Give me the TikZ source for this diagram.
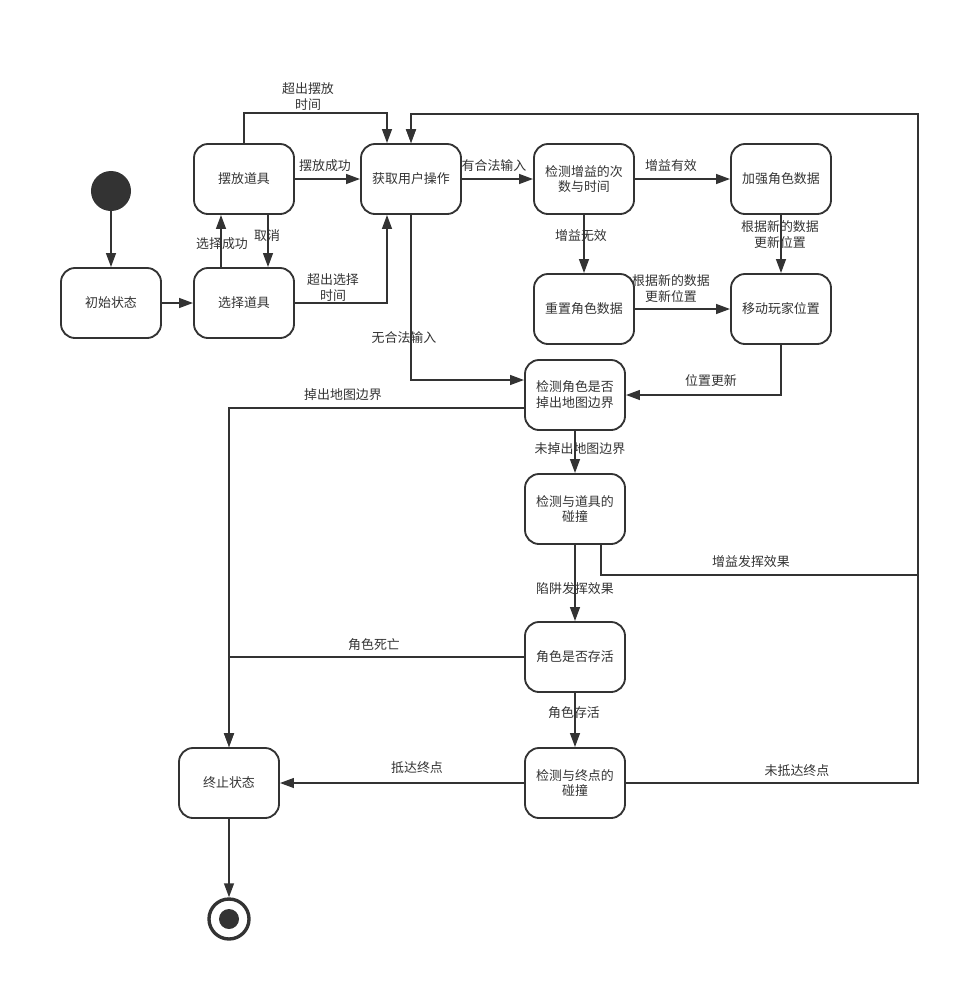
\documentclass[tikz,border=0pt]{standalone}
\usepackage{fontspec}
\setmainfont{Noto Sans CJK SC}
\usetikzlibrary{arrows.meta,positioning}
\definecolor{ink}{HTML}{333333}
\tikzstyle{state}=[
	rectangle,
	rounded corners=10pt,
	draw=ink,
	line width=1.3pt,
	minimum width=2.5cm,
	minimum height=1.75cm,
	align=center,
	text=ink,
	font=\fontsize{9.2}{11.3}\selectfont
]
\tikzstyle{trans}=[
	-{Triangle[length=10pt,width=7pt]},
	draw=ink,
	line width=1.3pt
]
\tikzstyle{lbl}=[
	text=ink,
	align=center,
	inner sep=1pt,
	font=\fontsize{9.2}{11.3}\selectfont
]

\begin{document}
\begin{tikzpicture}[x=0.025cm,y=-0.025cm]
\useasboundingbox (0,0) rectangle (980,1001);
\node [circle, fill=ink, minimum size=1cm] (start) at (111,191) {};
\node [state] (init) at (111,303) {初始状态};
\node [state] (select) at (244,303) {选择道具};
\node [state] (place) at (244,179) {摆放道具};
\node [state] (input) at (411,179) {获取用户操作};
\node [state] (buffcheck) at (584,179) {检测增益的次\\数与时间};
\node [state] (enhance) at (781,179) {加强角色数据};
\node [state] (reset) at (584,309) {重置角色数据};
\node [state] (move) at (781,309) {移动玩家位置};
\node [state] (bound) at (575,395) {检测角色是否\\掉出地图边界};
\node [state] (itemhit) at (575,509) {检测与道具的\\碰撞};
\node [state] (alive) at (575,657) {角色是否存活};
\node [state] (goalhit) at (575,783) {检测与终点的\\碰撞};
\node [state] (final) at (229,783) {终止状态};
\node [circle, draw=ink, line width=2.4pt, minimum size=1cm] (finish) at (229,919) {};
\node [circle, fill=ink, minimum size=0.5cm, inner sep=0pt] (finishdot) at (finish) {};
\coordinate (rail) at (918,114);

% prop selection
\draw [trans] (start) -- (init);
\draw [trans] (init) -- (select);
\draw [trans] ([xshift=-0.575cm]select.north) -- ([xshift=-0.575cm]place.south)
	node [lbl] at (222,244) {选择成功};
\draw [trans] ([xshift=0.6cm]place.south) -- ([xshift=0.6cm]select.north)
	node [lbl] at (267,236) {取消};
\draw [trans] (place) -- (input)
	node [lbl] at (325,166) {摆放成功};
\draw [trans] (place.north) -- ++(0,-30) -| ([xshift=-0.6cm]input.north)
	node [lbl] at (308,97) {超出摆放\\时间};
\draw [trans] (select.east) -| ([xshift=-0.6cm]input.south)
	node [lbl] at (333,288) {超出选择\\时间};

% buffs
\draw [trans] (input) -- (buffcheck)
	node [lbl] at (494,166) {有合法输入};
\draw [trans] (buffcheck) -- (enhance)
	node [lbl] at (671,166) {增益有效};
\draw [trans] (buffcheck) -- (reset)
	node [lbl] at (581,236) {增益无效};
\draw [trans] (enhance) -- (move)
	node [lbl] at (780,235) {根据新的数据\\更新位置};
\draw [trans] (reset) -- (move)
	node [lbl] at (671,289) {根据新的数据\\更新位置};
\draw [trans] (input.south) |- ([yshift=0.375cm]bound.west)
	node [lbl] at (404,338) {无合法输入};
\draw [trans] (move.south) |- (bound.east)
	node [lbl] at (711,381) {位置更新};

% checks
\draw [trans] ([yshift=-0.325cm]bound.west) -| (final.north)
	node [lbl] at (343,395) {掉出地图边界};
\draw [trans] (bound) -- (itemhit)
	node [lbl] at (580,449) {未掉出地图边界};
\draw [trans] ([xshift=0.65cm]itemhit.south) -- ++(0,30) -| (rail) -| (input.north)
	node [lbl] at (751,562) {增益发挥效果};
\draw [trans] (itemhit) -- (alive)
	node [lbl] at (575,589) {陷阱发挥效果};
\draw [trans] (alive.west) -| (final.north)
	node [lbl] at (374,645) {角色死亡};
\draw [trans] (alive) -- (goalhit)
	node [lbl] at (574,713) {角色存活};
\draw [trans] (goalhit) -- (final)
	node [lbl] at (417,768) {抵达终点};
\draw [trans] (goalhit.east) -| (rail) -| (input.north)
	node [lbl] at (797,771) {未抵达终点};
\draw [trans] (final) -- (finish);
\end{tikzpicture}
\end{document}
